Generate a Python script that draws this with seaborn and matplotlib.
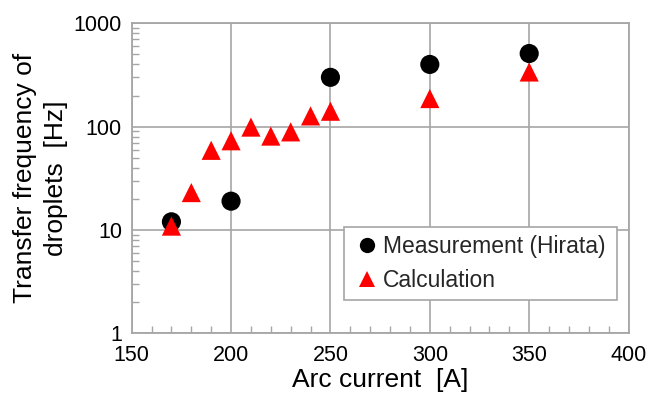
import matplotlib
matplotlib.use("Agg")
import matplotlib.pyplot as plt
import numpy as np
import pandas as pd
import seaborn as sns
from matplotlib.ticker import FixedLocator, LogLocator, NullFormatter, FixedFormatter

# Measured droplet transfer frequency (Hirata)
meas_current = [170, 200, 250, 300, 350]
meas_freq = [12, 19, 300, 400, 510]

# Calculated droplet transfer frequency
calc_current = [170, 180, 190, 200, 210, 220, 230, 240, 250, 300, 350]
calc_freq = [10.9, 23, 59, 73, 99, 81, 89, 127, 141, 187, 338]

x_ticks = [150, 200, 250, 300, 350, 400]
y_ticks = [1, 10, 100, 1000]
y_tick_labels = ["1", "10", "100", "1000"]

meas_label = "Measurement (Hirata)"
calc_label = "Calculation"

sns.set_theme(style="white")
plt.rcParams["font.family"] = ["Liberation Sans", "DejaVu Sans"]

df = pd.concat([
    pd.DataFrame({"current": meas_current, "freq": meas_freq, "series": meas_label}),
    pd.DataFrame({"current": calc_current, "freq": calc_freq, "series": calc_label}),
], ignore_index=True)

fig = plt.figure(figsize=(6.6, 3.97), dpi=100)
ax = fig.add_axes([0.1995, 0.1604, 0.7529, 0.7809])

grid_color = "#a6a6a6"

sns.scatterplot(
    data=df, x="current", y="freq", hue="series", style="series",
    palette={meas_label: "black", calc_label: "#ff0000"},
    markers={meas_label: "o", calc_label: "^"},
    s=190, linewidth=0, ax=ax, legend=False, zorder=3,
)

ax.set_yscale("log")
ax.set_xlim(150, 400)
ax.set_ylim(1, 1000)

ax.xaxis.set_major_locator(FixedLocator(x_ticks))
ax.xaxis.set_minor_locator(FixedLocator(np.arange(150, 401, 10)))
ax.yaxis.set_major_locator(FixedLocator(y_ticks))
ax.yaxis.set_major_formatter(FixedFormatter(y_tick_labels))
ax.yaxis.set_minor_locator(LogLocator(base=10, subs=np.arange(2, 10)))
ax.yaxis.set_minor_formatter(NullFormatter())

ax.grid(True, which="major", color=grid_color, linewidth=1.2, zorder=0)
ax.set_axisbelow(True)
for sp in ax.spines.values():
    sp.set_color(grid_color)
    sp.set_linewidth(1.3)

ax.tick_params(axis="both", which="major", length=0, labelsize=15.5,
               colors="black")
ax.tick_params(axis="x", which="major", pad=8.5)
ax.tick_params(axis="y", which="major", pad=7)
ax.tick_params(axis="x", which="minor", direction="in", length=5,
               width=1, color=grid_color, bottom=True)
ax.tick_params(axis="y", which="minor", direction="in", length=5,
               width=1, color=grid_color, left=True)

ax.set_xlabel("Arc current  [A]", fontsize=19, labelpad=1, color="black")
ax.set_ylabel("Transfer frequency of\ndroplets  [Hz]", fontsize=19,
              labelpad=4, color="black", linespacing=1.4)

handles = [
    plt.Line2D([], [], marker="o", linestyle="none", color="black",
               markersize=11, markeredgewidth=0),
    plt.Line2D([], [], marker="^", linestyle="none", color="#ff0000",
               markersize=11, markeredgewidth=0),
]
leg = ax.legend(handles, [meas_label, calc_label], loc="upper left",
                bbox_to_anchor=(0.4275, 0.343, 0.5498, 0.0), mode="expand",
                fontsize=16.5, frameon=True, fancybox=False,
                handlelength=1.3, handletextpad=0.05,
                borderpad=0.35, labelspacing=0.5, borderaxespad=0)
leg.get_frame().set_edgecolor(grid_color)
leg.get_frame().set_linewidth(1.2)
leg.get_frame().set_alpha(1)

fig.savefig("out.png", dpi=100)
